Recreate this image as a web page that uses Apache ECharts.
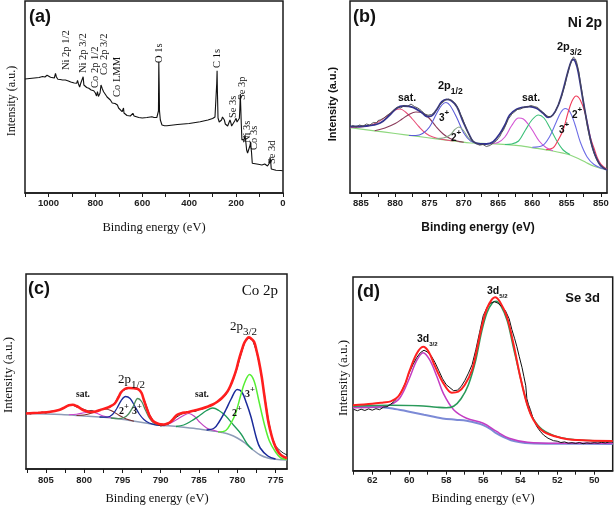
<!DOCTYPE html>
<html><head><meta charset="utf-8">
<script src="https://cdn.jsdelivr.net/npm/echarts/dist/echarts.min.js"></script>
<style>html,body{margin:0;padding:0;background:#fff}#c{width:614px;height:510px}</style>
</head><body><div id="c"></div>
<script>
// ---------- (a) survey ----------
const surveyTicks = [0,100,200,300,400,500,600,700,800,900,1000,1100];
const surveyLabels = [0,200,400,600,800,1000];
const survey = [[1100,114],[1080,114.5],[1060,115],[1040,115.5],[1025,116.5],[1015,116],[1006,117.7],[998,116],[991,115.7],[983,114.5],[975,115],[970,119.5],[966,116],[960,113.7],[950,113.5],[940,113],[932,114.5],[928,113],[915,112],[905,111],[899,110.3],[890,110],[880,109.7],[876,112.5],[872,109],[867,106],[862,110],[855,112],[852,116.3],[849,108],[845,106],[837,105.5],[828,104.7],[818,103],[807,102.3],[800,100],[795,97],[791,101.3],[787,96.5],[784,95.7],[780,100],[776,108],[773,109.7],[770,104],[765,101.3],[757,98.5],[750,96],[743,94],[736,93],[728,90],[722,88],[716,89.5],[711,91.3],[706,88],[701,85],[694,83],[686,81.3],[682,82],[680,85],[678,80],[676,78],[665,77.5],[651,77],[645,78],[640,79.7],[635,77],[630,75.7],[615,75.5],[600,75],[580,75.5],[559,76.3],[550,75.5],[545,74.7],[538,75.5],[533,77],[531,82],[529.5,131],[528,110],[526.5,82],[523,73],[516,68],[505,67.3],[495,67.3],[450,68.5],[400,69.5],[353,71.3],[320,73],[300,74.5],[290,76],[285,76.5],[282.5,110],[281,122.3],[279.5,100],[277,75],[272,71],[268,69.7],[262,73],[258,76],[254,77],[250,73],[246,69],[241,68],[236,67],[231,70],[226,73],[222,70],[219,67],[212,69],[206,72],[200,74.7],[196,71],[193,69.7],[189,72],[186,74.7],[184,85],[182,99],[180,85],[178,70],[176,58],[175,53],[172,52],[170,51.3],[167,53],[165,54],[162,58],[159,52],[155,43],[151,40],[148,38],[144,42],[140,48],[138,51.3],[136,45],[134,40],[131,29.7],[125,29.5],[112,29],[100,28.5],[90,28],[84,28],[78,29],[74,29.5],[70,30],[66,27],[63,26.3],[58,30],[55,35.7],[52,30],[50,24],[47,23],[30,22.8],[10,22.5],[1,22.3]];

// ---------- (b) Ni 2p ----------
const niTicks = [850,852.5,855,857.5,860,862.5,865,867.5,870,872.5,875,877.5,880,882.5,885];
const niLabels = [850,855,860,865,870,875,880,885];
const niRaw = [[886.5,66],[886.2,67.5],[886,68],[885.7,66],[885.5,66.5],[885.2,68],[885,68.5],[884.7,66.8],[884.5,67],[884.2,69],[884,69.5],[883.7,68],[883.5,68.5],[883.2,70.5],[883,71],[882.7,70.2],[882.5,72.5],[882.2,73],[882,74],[881.7,74.8],[881.5,76],[881.2,77.5],[881,79.5],[880.7,80],[880.5,82],[880.2,83],[880,84],[879.7,85.8],[879.5,86.5],[879.2,85],[879,85.5],[878.7,87.5],[878.5,88],[878.2,86.5],[878,87],[877.7,89],[877.5,88.5],[877.2,86.5],[877,85.5],[876.7,85],[876.5,84],[876.2,82.5],[876,81],[875.7,79],[875.5,78.5],[875.2,77.8],[875,77],[874.7,78.5],[874.5,79],[874.2,81],[874,82.5],[873.7,85.5],[873.5,88],[873.2,90],[873,91.5],[872.7,92.8],[872.5,93],[872.2,94],[872,95],[871.7,92.5],[871.5,91],[871.2,89],[871,87],[870.7,83],[870.5,79],[870.2,75],[870,71],[869.7,66],[869.5,62],[869.2,58],[869,55.5],[868.7,52],[868.5,50],[868.2,49.5],[868,48.5],[867.7,47.8],[867.5,46.5],[867.2,48.5],[867,48],[866.7,46.5],[866.5,45.5],[866.2,47.5],[866,49],[865.7,49.8],[865.5,51],[865.2,52.5],[865,54],[864.7,57],[864.5,60],[864.2,63],[864,66],[863.7,70.5],[863.5,74],[863.2,76.5],[863,79],[862.7,80.5],[862.5,82],[862.2,83.5],[862,84.5],[861.7,84],[861.5,85],[861.2,86],[861,86.5],[860.7,86],[860.5,85.5],[860.2,87.5],[860,89],[859.7,86.5],[859.5,85],[859.2,85.5],[859,84],[858.7,82],[858.5,80.5],[858.2,79],[858,77.5],[857.7,76.5],[857.5,76],[857.2,76.5],[857,77.5],[856.7,80.5],[856.5,84],[856.2,88],[856,92],[855.7,97],[855.5,102],[855.2,109],[855,116],[854.7,123],[854.5,128],[854.2,133],[854,136],[853.7,134],[853.5,130],[853.2,121],[853,111],[852.7,99],[852.5,89],[852.2,77],[852,68],[851.7,58],[851.5,52],[851.2,45],[851,40],[850.7,35],[850.5,32],[850.2,29],[850,27],[849.7,25.5],[849.5,24.5],[849.2,23]];
const niFit = [[886.6,66.5],[884.2,67],[882.2,70],[880.8,78],[879.8,84.7],[878.8,87],[877.4,85.7],[876.1,80.3],[875.4,76.5],[874.7,77],[874,83],[873.2,91.3],[872.5,93.7],[871.8,92.3],[871,86.3],[870.1,71.3],[869.3,59.7],[868.6,51.3],[867.6,49],[866.7,49],[865.7,51.3],[864.7,59.7],[864,68],[863.3,78],[862.3,83.7],[861.3,85.7],[860.4,86.3],[859.4,84.7],[858.4,79.7],[857.7,75.7],[857,78],[856.2,88],[855.5,103],[854.8,121.3],[854.3,132],[854,133.5],[853.7,131],[853.3,121.3],[852.6,93],[851.8,63],[851.1,43],[850.1,28],[849.1,23]];
const niBg = [[886.6,65.3],[883,62.2],[880,59.5],[877,56.8],[874,54.2],[871,51.6],[869,50],[866,49.3],[862,47.3],[859.4,44.7],[857,42],[855.5,39.8],[854.5,38],[853.3,34.5],[852.1,30.3],[851,26.8],[850,24.6],[849.1,23.3]];
const niSat1 = [[886.6,65.5],[884,67],[882.5,71],[881,78],[880,83],[879.3,84],[878.5,81],[877.5,74],[876.5,66],[875.5,59.5],[874.5,56],[873,53.5],[871.5,52]];
const niSat2 = [[883,62.3],[881.5,65],[880,69.5],[879,74],[878,78.5],[877,81],[876,80],[875,74.5],[874,66],[873,59],[872,54.5],[871,52],[870,50.8]];
const ni3p12 = [[878,57.5],[877,57.5],[876,59.5],[875,66],[874,79],[873.2,88],[872.6,90.5],[872,87.5],[871,75],[870,60],[869,52],[868,49.8]];
const ni2p12 = [[874,54.5],[873,55],[872,58],[871.3,63.5],[870.7,66],[870,62],[869.3,55],[868.5,50.5],[867.5,49.5]];
const niSat3 = [[866,49.5],[865,50.5],[864,56],[863,67.5],[862,75],[861.3,74],[860.5,68],[860,63],[859,52],[858,45.5],[857,42.3]];
const niSat4 = [[864,48.5],[863,49],[862,52],[861,63],[860,73.5],[859.1,78],[858.3,75],[857.5,66],[856.5,53],[855.5,43],[854.5,38.5]];
const ni3p32 = [[860,45.8],[858.5,47.5],[857.5,56],[856.5,71],[855.8,81],[855.2,84.5],[854.5,81],[853.8,69],[853,51],[852,36],[851,28.5],[850,25],[849.1,23.3]];
const ni2p32 = [[858,43.3],[857,45],[856.5,49.5],[855.5,63],[854.8,80],[854.2,92],[853.6,97],[853,93],[852.3,80],[851.5,55],[851,45],[850.5,35],[850,29],[849.1,23.5]];

// ---------- (c) Co 2p ----------
const coTicks = [775,777.5,780,782.5,785,787.5,790,792.5,795,797.5,800,802.5,805,807.5];
const coLabels = [775,780,785,790,795,800,805];
const coRaw = [[807.5,56],[807,55],[806.5,56.5],[806,55.5],[805.5,57],[805,56],[804.5,57.5],[804,58],[803.5,58.5],[803,60],[802.5,61.5],[802,63.5],[801.5,64],[801,62],[800.5,61],[800,59.5],[799.5,58],[799,58.5],[798.5,57],[798,59],[797.5,60],[797,61],[796.5,63],[796,66],[795.5,73],[795,78],[794.5,80],[794,81],[793.5,81.5],[793,80.5],[792.5,76],[792,66],[791.5,55],[791,48.5],[790.5,45],[790,43],[789.5,44],[789,45],[788.5,48],[788,51.5],[787.5,54],[787,56],[786.5,56.5],[786,58],[785.5,57.5],[785,59.5],[784.5,60],[784,62],[783.5,63.5],[783,65],[782.5,67.5],[782,70],[781.5,74],[781,81],[780.5,90],[780,101],[779.5,115],[779,127],[778.5,131],[778,129],[777.5,118],[777,101],[776.5,77],[776,52],[775.5,33],[775,23],[774.5,19],[774,16],[773.5,14]];
const coFit = [[807.6,55.5],[806,56.3],[804.4,57.3],[803.3,59],[802.7,61],[802,63.8],[801.5,64.2],[801,63],[800.5,60.7],[800,58.5],[799.2,57],[798.5,57.5],[797.9,59],[797,61.3],[796.6,62.5],[796,65.5],[795.5,72],[795.2,76.5],[794.7,80],[794.2,81],[793.5,80.7],[792.9,79.7],[792.5,76],[792.2,69],[791.8,60],[791.4,52.3],[791,48],[790.5,45.7],[790,44.6],[789.6,44.5],[789.1,45.5],[788.7,47.3],[788.3,50.5],[787.9,54],[787.3,55.8],[786.6,56.7],[786,57.8],[785.3,59],[784.6,60.5],[783.9,62.3],[783.2,64.5],[782.6,67.3],[782,71],[781.3,77.3],[780.9,83],[780.5,90.7],[780.1,100],[779.8,109],[779.4,119],[779.1,125.7],[778.8,129.5],[778.5,131.7],[778.2,130.5],[777.8,127.3],[777.5,119],[777.2,109],[776.8,92],[776.5,75.7],[776.2,60],[775.9,45.7],[775.5,33],[775.2,25.7],[774.8,19],[774.3,14],[773.5,10.7]];
const coBg = [[807.6,55.5],[803,54.5],[800,53],[798,52],[796,50.8],[794,48.5],[792,46],[790.5,44],[789,43.2],[787,41.7],[785,40],[783,37.8],[782,36.5],[781,34.5],[780,31],[779,26],[778,19.5],[777,14],[776,11],[775,9.8],[773.5,9]];
const coSatA = [[801,53.5],[800,54],[799,56],[798,59],[797.3,60],[796.5,58.5],[795.5,54],[794.5,50],[793.5,47.8]];
const coSatB = [[802,54.2],[801,54.8],[800,56.2],[799.3,57],[798.5,56],[797.5,53],[796.5,51.3]];
const co2p12 = [[798,52],[797,51.8],[796.3,54.5],[795.7,61],[795.2,68],[794.6,72.5],[794,70.5],[793.4,63],[792.8,55],[792.2,49.5],[791.5,46],[790.5,44],[789.5,43.5]];
const co3p12 = [[796.5,51],[795.5,50.3],[794.8,51.5],[794.2,55],[793.6,62.5],[793,70.5],[792.5,67.5],[792,59],[791.4,50],[790.8,45.5],[790,43.8]];
const coSatC = [[790,43.8],[789,45],[788,49],[787,53.5],[786.3,55.5],[785.5,52],[785,47.5],[784,41],[783,38.5],[782,36.5]];
const coSatD = [[788,42.5],[787,44],[786,48],[785,53],[784,58.5],[783.2,61],[782.4,58.5],[781.5,53],[780.5,44],[779.5,35],[778.7,25],[778,19.5]];
const co2p32 = [[784,39],[783,41],[782.3,48],[781.5,59],[780.8,70],[780,79.5],[779.4,77],[778.8,66],[778.2,52],[777.5,31],[777,21],[776,13],[775,10]];
const co3p32 = [[782.5,37],[781.5,38.5],[780.8,46],[780.2,56],[779.5,75],[779,87],[778.4,94.5],[777.8,88],[777.2,69],[776.5,46],[775.8,28],[775,17],[774.3,11],[773.5,9.5]];

// ---------- (d) Se 3d ----------
const seTicks = [50,51,52,53,54,55,56,57,58,59,60,61,62,63];
const seLabels = [50,52,54,56,58,60,62];
const seRaw = [[63,61.3],[62.8,60],[62.6,61.5],[62.4,60.2],[62.2,61.8],[62,60.5],[61.8,62],[61.6,61],[61.4,63.5],[61.2,64],[61,66.5],[60.8,69.5],[60.6,74],[60.4,80],[60.2,88],[60,98],[59.8,106],[59.6,113],[59.4,118],[59.2,120.5],[59,118.5],[58.8,114.5],[58.6,108],[58.4,100],[58.2,92],[58,86],[57.8,83],[57.6,80],[57.5,82],[57.4,80.5],[57.2,84],[57,90],[56.8,97.5],[56.6,106],[56.4,121],[56.2,138],[56,155],[55.8,163],[55.6,167.5],[55.4,169],[55.2,167.5],[55,164],[54.8,160],[54.6,152],[54.45,141],[54.3,132],[54.18,124],[54.05,114],[53.9,103],[53.8,94],[53.7,85],[53.64,72],[53.55,66],[53.45,61],[53.3,52],[53.1,44],[52.9,39],[52.74,35.7],[52.5,32.5],[52.2,30],[52,29.5],[51.8,28.2],[51.6,28.8],[51.4,27.5],[51.2,28],[51,27.3],[50.8,28.2],[50.6,27],[50.4,27.8],[50.2,27.4],[50,28],[49.8,27.6],[49.6,28.3],[49.4,27.8],[49.2,28.6],[49,28.7]];
const seFit = [[63.04,65.5],[62,67],[61.4,68.3],[61,69.3],[60.6,74],[60.25,85.5],[60,99],[59.6,117],[59.25,124],[58.95,119],[58.6,104],[58.15,87.3],[57.7,78],[57.35,79],[57,85.7],[56.6,101],[56.35,120.7],[56.08,144],[55.8,162.3],[55.53,171.3],[55.36,173.5],[55.1,169],[54.72,154],[54.37,127.3],[54,94],[53.64,67.3],[53.28,50.7],[52.74,39],[51.84,33],[50.93,30.7],[49,29.7]];
const se52 = [[63.04,64.5],[61,65.5],[59.5,65],[58.5,63.5],[58,63],[57.6,64.5],[57.2,72],[56.8,86],[56.4,111],[56.1,138],[55.8,158],[55.5,168],[55.3,169.5],[55.05,165],[54.7,150],[54.4,126],[54,94],[53.6,65],[53.3,52],[52.8,41],[52,34],[51,31],[50,30],[49,29.5]];
const se32 = [[63.04,63],[61.5,64],[61,66],[60.5,73],[60,92],[59.6,110],[59.25,118],[58.9,111],[58.5,94],[58.15,77],[57.6,61],[56.9,52.5],[56,47.5],[55.3,39.5],[54.6,32.5],[53.6,28.5],[52,27.5],[49,27.5]];
const seBg = [[63.04,64],[61.5,63.5],[60.9,62.3],[60,59],[59.2,56],[58.2,52.3],[57.5,51],[56.9,50],[56.3,47.5],[56,45.5],[55.6,41.5],[55.3,37.5],[54.9,33.5],[54.5,30.5],[54,28.5],[53.5,27.5],[52,27],[49,26.7]];

// ---------- chart ----------
const SANS = 'Liberation Sans, Arial, sans-serif';
const SERIF = 'Liberation Serif, Times New Roman, serif';
const chart = echarts.init(document.getElementById('c'), null, {renderer:'canvas'});

const grids = [
  {left:25, top:1, width:258, height:192},
  {left:350, top:1, width:257, height:192},
  {left:26, top:274, width:261, height:195},
  {left:353, top:277, width:259.7, height:193.7}
].map(g => Object.assign(g, {show:true, borderColor:'#1a1a1a', borderWidth:1.5, containLabel:false}));

function xa(i, min, max, ticks, labels, margin){
  return {type:'value', gridIndex:i, min, max, inverse:true,
    axisLine:{show:true, onZero:false, lineStyle:{color:'#1a1a1a', width:1.5}},
    axisTick:{show:true, inside:false, length:4, customValues:ticks, lineStyle:{color:'#1a1a1a', width:1}},
    axisLabel:{show:true, customValues:labels, margin, formatter:v => String(v),
      fontFamily:SANS, fontWeight:'bold', fontSize:9.5, color:'#222'},
    splitLine:{show:false}};
}
function ya(i, max){ return {type:'value', gridIndex:i, min:0, max, show:false, splitLine:{show:false}}; }

function L(g, data, color, width, extra){
  return Object.assign({type:'line', xAxisIndex:g, yAxisIndex:g, data, symbol:'none', smooth:0.35,
    lineStyle:{color, width}, silent:true, animation:false, clip:true}, extra||{});
}

const series = [
  L(0, survey, '#111', 1.1, {smooth:false}),
  L(1, niBg, '#8fd87f', 1.2),
  L(1, niSat1, '#e8507a', 1.1),
  L(1, niSat2, '#8a3a5a', 1.1),
  L(1, ni3p12, '#5a5ad8', 1.1),
  L(1, ni2p12, '#8aa88a', 1.1),
  L(1, niSat3, '#d455d4', 1.1),
  L(1, niSat4, '#3cc078', 1.1),
  L(1, ni3p32, '#6d6de6', 1.1),
  L(1, ni2p32, '#f03c5a', 1.1),
  L(1, niFit, '#33338f', 1.8),
  L(1, niRaw, '#4a4a4a', 0.9, {smooth:false}),
  L(2, coBg, '#8d9cb8', 1.5),
  L(2, coSatA, '#7a3030', 1.1),
  L(2, coSatB, '#cc44cc', 1.1),
  L(2, co2p12, '#1a2a9a', 1.3),
  L(2, co3p12, '#4c8c5c', 1.3),
  L(2, coSatC, '#c040c0', 1.2),
  L(2, coSatD, '#1f9a5a', 1.3),
  L(2, co2p32, '#1a2a9a', 1.5),
  L(2, co3p32, '#55ee33', 1.5),
  L(2, coRaw, '#111', 0.9, {smooth:false}),
  L(2, coFit, '#ff1e1e', 2.6),
  L(3, seBg, '#7c8ad6', 2),
  L(3, se32, '#c33cc3', 1.5),
  L(3, se52, '#2a9a5a', 1.6),
  L(3, seRaw, '#111', 1, {smooth:false}),
  L(3, seFit, '#ff2020', 2)
];

function T(x, y, text, o){
  o = o || {};
  const fam = o.fam || SANS, size = o.size || 11, wt = o.wt || 'normal';
  const st = {text, x:0, y:0, fill:o.color||'#111', fontFamily:fam, fontSize:size, fontWeight:wt,
    align:o.align||'left', verticalAlign:'middle', textAlign:o.align||'left', textVerticalAlign:'middle'};
  if (o.rich) st.rich = o.rich;
  return {type:'text', x, y, rotation:o.rot||0, silent:true, z:100, style:st};
}
function richSet(fam, wt, main, small, lh){
  return {
    m:{fontFamily:fam, fontWeight:wt, fontSize:main, lineHeight:lh, fill:'#111', color:'#111'},
    s:{fontFamily:fam, fontWeight:wt, fontSize:small, verticalAlign:'bottom', fill:'#111', color:'#111'},
    p:{fontFamily:fam, fontWeight:wt, fontSize:small, verticalAlign:'top', fill:'#111', color:'#111'}
  };
}
const R = Math.PI/2;
const rB = richSet(SANS, 'bold', 11, 8.5, 20);
const rBs = richSet(SANS, 'bold', 10, 8, 18);
const rC = richSet(SERIF, 'normal', 13, 11, 22);
const rCs = richSet(SERIF, 'bold', 10, 8.5, 18);
const rD = richSet(SANS, 'bold', 10.5, 6, 16);

const graphics = [
  // (a)
  T(29, 17, '(a)', {size:18, wt:'bold'}),
  T(66, 70, 'Ni 2p 1/2', {fam:SERIF, size:10.5, rot:R}),
  T(83, 73, 'Ni 2p 3/2', {fam:SERIF, size:10.5, rot:R}),
  T(95, 88, 'Co 2p 1/2', {fam:SERIF, size:10.5, rot:R}),
  T(104, 75, 'Co 2p 3/2', {fam:SERIF, size:10.5, rot:R}),
  T(117, 97, 'Co LMM', {fam:SERIF, size:10.5, rot:R}),
  T(159, 63, 'O 1s', {fam:SERIF, size:10.5, rot:R}),
  T(217, 68, 'C 1s', {fam:SERIF, size:10.5, rot:R}),
  T(233, 118, 'Se 3s', {fam:SERIF, size:10.5, rot:R}),
  T(242, 100, 'Se 3p', {fam:SERIF, size:10.5, rot:R}),
  T(247, 143, 'Ni 3s', {fam:SERIF, size:10.5, rot:R}),
  T(254, 150, 'Co 3s', {fam:SERIF, size:10.5, rot:R}),
  T(272, 164, 'Se 3d', {fam:SERIF, size:10.5, rot:R}),
  T(154, 228, 'Binding energy (eV)', {fam:SERIF, size:12.5, align:'center'}),
  T(12, 101, 'Intensity (a.u.)', {fam:SERIF, size:12, align:'center', rot:R}),
  // (b)
  T(353, 17, '(b)', {size:18, wt:'bold'}),
  T(602, 23, 'Ni 2p', {size:14, wt:'bold', align:'right'}),
  T(398, 98, 'sat.', {size:10.5, wt:'bold'}),
  T(522, 98, 'sat.', {size:10.5, wt:'bold'}),
  T(438, 86, '{m|2p}{s|1/2}', {rich:rB}),
  T(557, 47, '{m|2p}{s|3/2}', {rich:rB}),
  T(439, 118, '{m|3}{p|+}', {rich:rBs}),
  T(451, 138, '{m|2}{p|+}', {rich:rBs}),
  T(559, 130, '{m|3}{p|+}', {rich:rBs}),
  T(572, 115, '{m|2}{p|+}', {rich:rBs}),
  T(478, 228, 'Binding energy (eV)', {size:12, wt:'bold', align:'center'}),
  T(333, 104, 'Intensity (a.u.)', {size:11, wt:'bold', align:'center', rot:R}),
  // (c)
  T(28, 289, '(c)', {size:18, wt:'bold'}),
  T(278, 291, 'Co 2p', {fam:SERIF, size:15, align:'right'}),
  T(76, 395, 'sat.', {fam:SERIF, size:9.5, wt:'bold'}),
  T(195, 395, 'sat.', {fam:SERIF, size:9.5, wt:'bold'}),
  T(118, 380, '{m|2p}{s|1/2}', {rich:rC}),
  T(230, 327, '{m|2p}{s|3/2}', {rich:rC}),
  T(119, 411, '{m|2}{p|+}', {rich:rCs}),
  T(132, 411, '{m|3}{p|+}', {rich:rCs}),
  T(232, 413, '{m|2}{p|+}', {rich:rCs}),
  T(245, 394, '{m|3}{p|+}', {rich:rCs}),
  T(157, 499, 'Binding energy (eV)', {fam:SERIF, size:12.5, align:'center'}),
  T(9, 375, 'Intensity (a.u.)', {fam:SERIF, size:13, align:'center', rot:R}),
  // (d)
  T(357, 292, '(d)', {size:18, wt:'bold'}),
  T(600, 298, 'Se 3d', {size:13, wt:'bold', align:'right'}),
  T(417, 339, '{m|3d}{s|3/2}', {rich:rD}),
  T(487, 291, '{m|3d}{s|5/2}', {rich:rD}),
  T(483, 499, 'Binding energy (eV)', {fam:SERIF, size:12.5, align:'center'}),
  T(344, 378, 'Intensity (a.u.)', {fam:SERIF, size:13, align:'center', rot:R})
];

chart.setOption({
  animation:false,
  backgroundColor:'#fff',
  grid: grids,
  xAxis: [
    xa(0, 0, 1100, surveyTicks, surveyLabels, 5),
    xa(1, 849.1, 886.6, niTicks, niLabels, 5),
    xa(2, 773.5, 807.6, coTicks, coLabels, 6),
    xa(3, 49, 63.04, seTicks, seLabels, 5)
  ],
  yAxis: [ya(0,192), ya(1,192), ya(2,195), ya(3,193.7)],
  series,
  graphic: graphics
});
</script></body></html>
